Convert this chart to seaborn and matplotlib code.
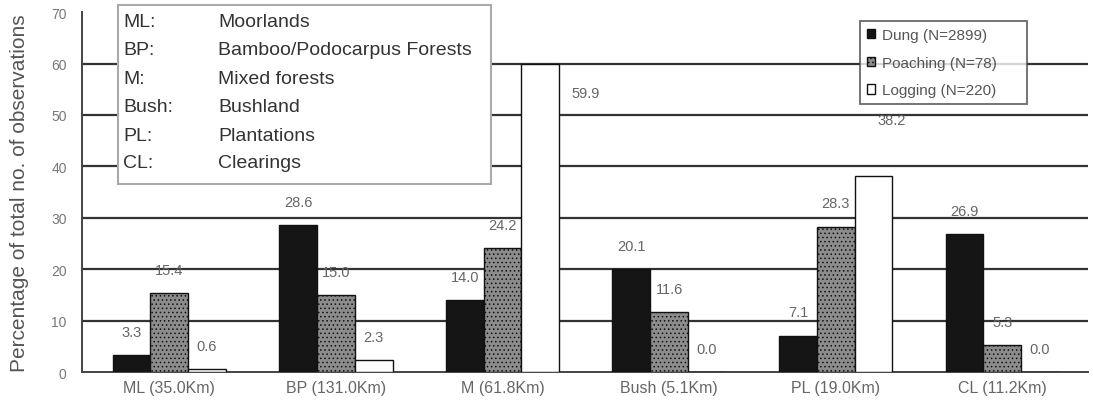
import pandas as pd
import seaborn as sns
import matplotlib.pyplot as plt
from matplotlib.patches import Rectangle

# habitat blocks (area in brackets) and share of observations per activity
sites = ["ML (35.0Km)", "BP (131.0Km)", "M (61.8Km)", "Bush (5.1Km)", "PL (19.0Km)", "CL (11.2Km)"]
dung = [3.3, 28.6, 14.0, 20.1, 7.1, 26.9]
poaching = [15.4, 15.0, 24.2, 11.6, 28.3, 5.3]
logging = [0.6, 2.3, 59.9, 0.0, 38.2, 0.0]
series = ["Dung (N=2899)", "Poaching (N=78)", "Logging (N=220)"]

abbrev = ["ML:", "BP:", "M:", "Bush:", "PL:", "CL:"]
habitat = ["Moorlands", "Bamboo/Podocarpus Forests", "Mixed forests",
           "Bushland", "Plantations", "Clearings"]

df = pd.DataFrame({
    "site": sites * 3,
    "series": [s for s in series for _ in sites],
    "pct": dung + poaching + logging,
})

sns.set_style("white")
plt.rcParams['font.family'] = ['Liberation Sans', 'DejaVu Sans']
plt.rcParams['hatch.linewidth'] = 0.6

fig = plt.figure(figsize=(10.93, 4.10), dpi=100)
ax = fig.add_axes([0.075, 0.09, 0.920, 0.878])

palette = {series[0]: "#151515", series[1]: "#8c8c8c", series[2]: "#ffffff"}
sns.barplot(data=df, x="site", y="pct", hue="series", palette=palette,
            width=0.68, edgecolor="#111111", linewidth=1.0, saturation=1,
            ax=ax, zorder=3)

# dotted fill for the poaching bars
for bar in ax.containers[1]:
    bar.set_hatch("....")

# value labels above the bars (two of the logging labels sit off to the side)
nudge = {(2, 2): (0.27, -10.1), (2, 4): (0.11, 6.3)}
for si, cont in enumerate(ax.containers):
    for ci, bar in enumerate(cont):
        h = bar.get_height()
        dx, dy = nudge.get((si, ci), (0, 0))
        ax.text(bar.get_x() + bar.get_width() / 2 + dx, h + 4.5 + dy, f"{h:.1f}",
                ha="center", va="center", fontsize=10.5, color="#666666", zorder=4)

# horizontal grid lines
for y in range(10, 70, 10):
    ax.axhline(y, color="#333333", lw=1.6, zorder=1)

ax.set_ylim(0, 70)
ax.set_xlim(-0.524, 5.512)
ax.set_yticks(range(0, 80, 10))
ax.tick_params(axis="y", length=6, width=1.2, color="#444444", labelsize=10,
               labelcolor="#777777", pad=5)
ax.set_xticks(range(len(sites)))
ax.set_xticklabels(sites)
ax.tick_params(axis="x", length=0, labelsize=11.5, labelcolor="#666666", pad=6)
ax.set_xticks([i - 0.5 for i in range(len(sites) + 1)], minor=True)
ax.tick_params(axis="x", which="minor", length=8, width=1.2, color="#444444",
               direction="inout")

ax.set_xlabel("")
ax.set_ylabel("Percentage of total no. of observations", fontsize=15,
              color="#555555", labelpad=16)

sns.despine(ax=ax)
for side in ["left", "bottom"]:
    ax.spines[side].set_color("#444444")
    ax.spines[side].set_linewidth(1.4)

# series legend, top right
handles, labels = ax.get_legend_handles_labels()
ax.get_legend().remove()
leg = fig.legend(handles, labels, loc="upper left",
                 bbox_to_anchor=(860 / 1093, 1 - 112 / 410, 167 / 1093, 90 / 410),
                 mode="expand", fontsize=11, frameon=True, fancybox=False,
                 handlelength=0.55, handleheight=0.55, handletextpad=0.45,
                 labelspacing=0.9, borderpad=0.45, borderaxespad=0)
leg.get_frame().set_edgecolor("#444444")
leg.get_frame().set_linewidth(1.3)
for t in leg.get_texts():
    t.set_color("#555555")
leg.get_patches()[1].set_hatch("....")

# habitat key, top left
fig.patches.append(Rectangle((0.108, 0.549), 0.341, 0.437, transform=fig.transFigure,
                             facecolor="white", edgecolor="#aaaaaa", lw=1.5, zorder=5))
row_y = [0.946, 0.876, 0.807, 0.739, 0.668, 0.602]
for a, h, yy in zip(abbrev, habitat, row_y):
    fig.text(0.1125, yy, a, fontsize=14, color="#333333", va="center", zorder=6)
    fig.text(0.1995, yy, h, fontsize=14, color="#333333", va="center", zorder=6)

plt.savefig("out.png", dpi=100)
